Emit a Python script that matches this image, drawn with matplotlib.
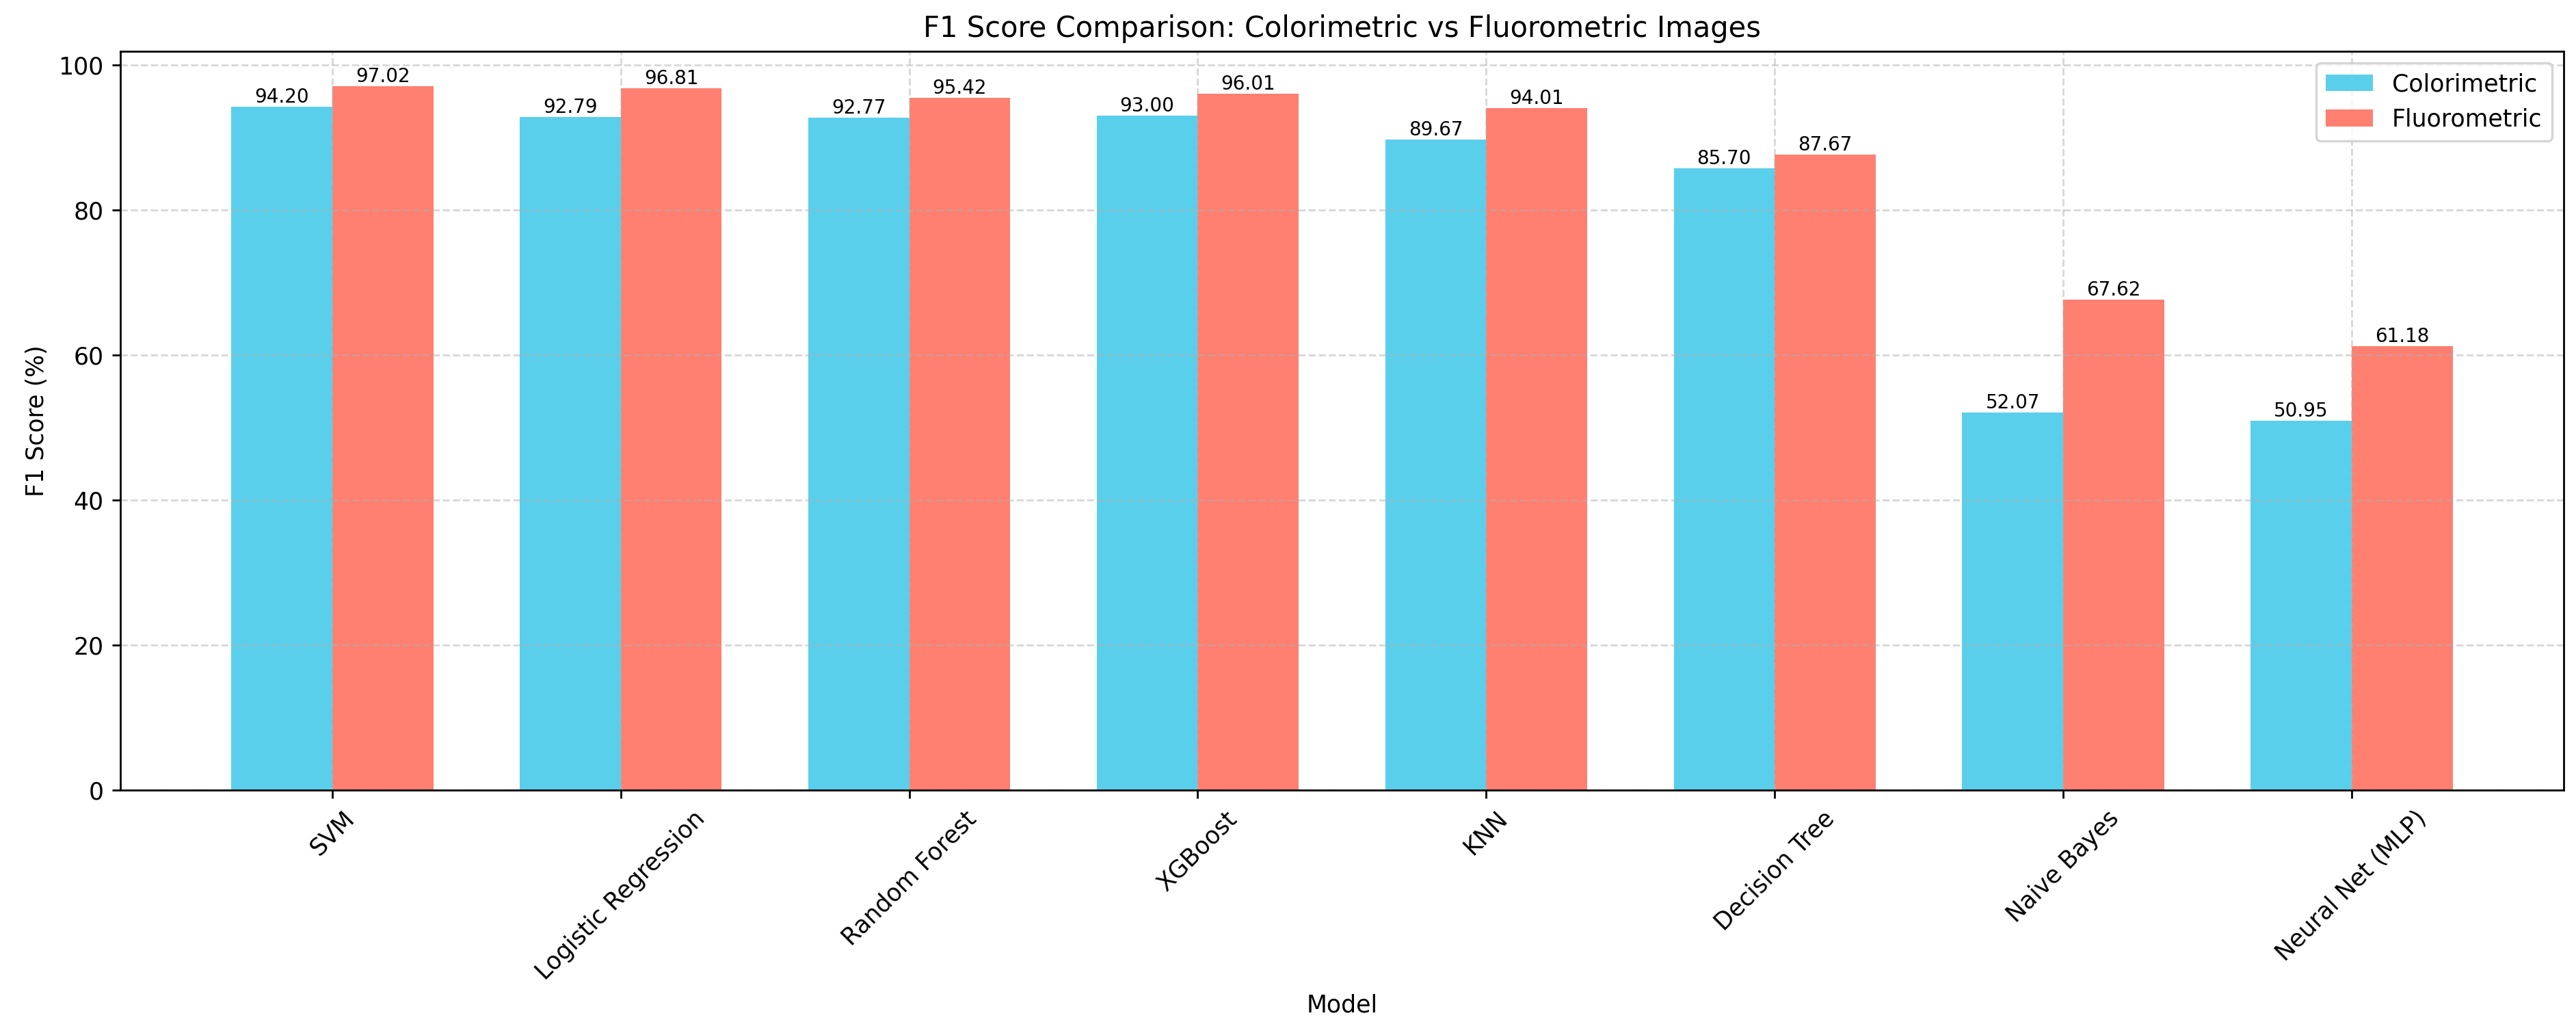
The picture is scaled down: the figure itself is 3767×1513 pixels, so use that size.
import numpy as np
import matplotlib.pyplot as plt

# Daten
models = ['SVM', 'Logistic Regression', 'Random Forest', 'XGBoost', 'KNN',
          'Decision Tree', 'Naive Bayes', 'Neural Net (MLP)']
colorimetric = [94.20, 92.79, 92.77, 93.00, 89.67, 85.70, 52.07, 50.95]
fluorometric = [97.02, 96.81, 95.42, 96.01, 94.01, 87.67, 67.62, 61.18]

x = np.arange(len(models))
width = 0.35

fig, ax = plt.subplots(figsize=(3767 / 250, 1513 / 250), dpi=250)
bars1 = ax.bar(x - width / 2, colorimetric, width, label='Colorimetric', color='#5acfec')
bars2 = ax.bar(x + width / 2, fluorometric, width, label='Fluorometric', color='#ff7f70')

for bars in (bars1, bars2):
    for b in bars:
        ax.text(b.get_x() + b.get_width() / 2, b.get_height(), f'{b.get_height():.2f}',
                ha='center', va='bottom', fontsize=8)

ax.set_xlabel('Model')
ax.set_ylabel('F1 Score (%)')
ax.set_title('F1 Score Comparison: Colorimetric vs Fluorometric Images')
ax.set_xticks(x)
ax.set_xticklabels(models, rotation=45)
ax.legend()
ax.grid(True, linestyle='--', alpha=0.5)

plt.subplots_adjust(left=0.0467, right=0.9952, top=0.9504, bottom=0.2366)
plt.savefig('out.png', dpi=250)
